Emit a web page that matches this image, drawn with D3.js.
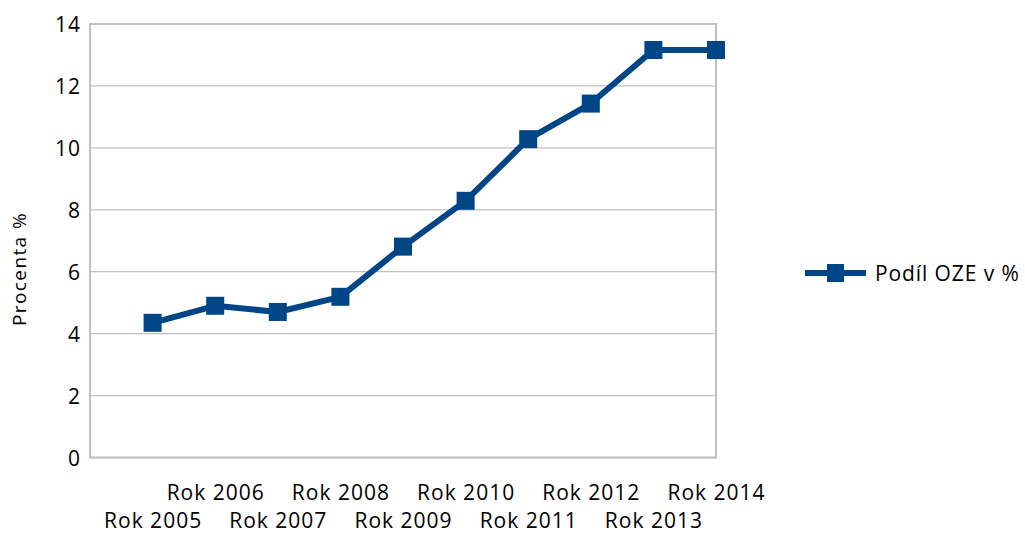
<!DOCTYPE html>
<html>
<head>
<meta charset="utf-8">
<script src="https://cdn.jsdelivr.net/npm/d3@7"></script>
<style>
  html, body { margin: 0; padding: 0; background: #ffffff; }
  svg text { font-family: "Open Sans", "DejaVu Sans", sans-serif; fill: #000; }
</style>
</head>
<body>
<svg id="chart" width="1025" height="534"></svg>
<script>
// Share of renewable energy sources (OZE), by year
const categories = ["Rok 2005", "Rok 2006", "Rok 2007", "Rok 2008", "Rok 2009",
                    "Rok 2010", "Rok 2011", "Rok 2012", "Rok 2013", "Rok 2014"];
const shareValues = [4.35, 4.90, 4.70, 5.19, 6.81, 8.29, 10.28, 11.43, 13.16, 13.16];
const yTicks = [0, 2, 4, 6, 8, 10, 12, 14];
const seriesName = "Podíl OZE v %";
const yTitle = "Procenta %";

const svg = d3.select("#chart");
const plot = { left: 90, right: 716, top: 24, bottom: 457.5 };
const lineColor = "#004586";
const gridColor = "#c0c0c0";

// categories are spaced one step apart, with an empty step before the first year
const x = d3.scaleLinear()
  .domain([-1, categories.length - 1])
  .range([plot.left, plot.right]);
const y = d3.scaleLinear()
  .domain([0, 14])
  .range([plot.bottom, plot.top]);

// horizontal gridlines
svg.append("g")
  .selectAll("line")
  .data(yTicks)
  .join("line")
  .attr("x1", plot.left).attr("x2", plot.right)
  .attr("y1", d => y(d)).attr("y2", d => y(d))
  .attr("stroke", gridColor)
  .attr("stroke-width", 1.3);

// plot frame
svg.append("rect")
  .attr("x", plot.left).attr("y", plot.top)
  .attr("width", plot.right - plot.left)
  .attr("height", plot.bottom - plot.top)
  .attr("fill", "none")
  .attr("stroke", gridColor)
  .attr("stroke-width", 2);

// y axis labels
const yAxis = d3.axisLeft(y).tickValues(yTicks).tickSize(0).tickPadding(9);
const gy = svg.append("g").attr("transform", `translate(${plot.left},0)`).call(yAxis);
gy.select(".domain").remove();
gy.selectAll("text")
  .style("font-family", '"Open Sans", sans-serif')
  .style("font-size", "21px")
  .style("letter-spacing", "1px")
  .attr("fill", "#000")
  .attr("dy", "0.36em");

// x axis labels, staggered over two rows
const xAxis = d3.axisBottom(x).tickValues(d3.range(categories.length))
  .tickFormat(i => categories[i]).tickSize(0);
const gx = svg.append("g").attr("transform", `translate(0,${plot.bottom})`).call(xAxis);
gx.select(".domain").remove();
gx.selectAll("text")
  .style("font-family", '"Open Sans", sans-serif')
  .style("font-size", "21px")
  .style("letter-spacing", "1px")
  .attr("fill", "#000")
  .attr("dy", null)
  .attr("y", i => (i % 2 === 1 ? 42 : 70));

// y axis title
svg.append("text")
  .attr("transform", "translate(26,269) rotate(-90)")
  .attr("text-anchor", "middle")
  .style("font-size", "19px")
  .style("letter-spacing", "1.4px")
  .text(yTitle);

// series line
const line = d3.line()
  .x((d, i) => x(i))
  .y(d => y(d));
svg.append("path")
  .datum(shareValues)
  .attr("d", line)
  .attr("fill", "none")
  .attr("stroke", lineColor)
  .attr("stroke-width", 6)
  .attr("stroke-linejoin", "round");

// square markers
const ms = 18;
svg.append("g")
  .selectAll("rect")
  .data(shareValues)
  .join("rect")
  .attr("x", (d, i) => x(i) - ms / 2)
  .attr("y", d => y(d) - ms / 2)
  .attr("width", ms).attr("height", ms)
  .attr("fill", lineColor);

// legend
const legend = svg.append("g").attr("transform", "translate(805,273)");
legend.append("line")
  .attr("x1", 0).attr("x2", 61)
  .attr("y1", 0).attr("y2", 0)
  .attr("stroke", lineColor)
  .attr("stroke-width", 6);
legend.append("rect")
  .attr("x", 22).attr("y", -9)
  .attr("width", 17).attr("height", 18)
  .attr("fill", lineColor);
legend.append("text")
  .attr("x", 70).attr("y", 0)
  .attr("dy", "0.36em")
  .style("font-size", "21px")
  .style("letter-spacing", "0.9px")
  .text(seriesName);
</script>
</body>
</html>
